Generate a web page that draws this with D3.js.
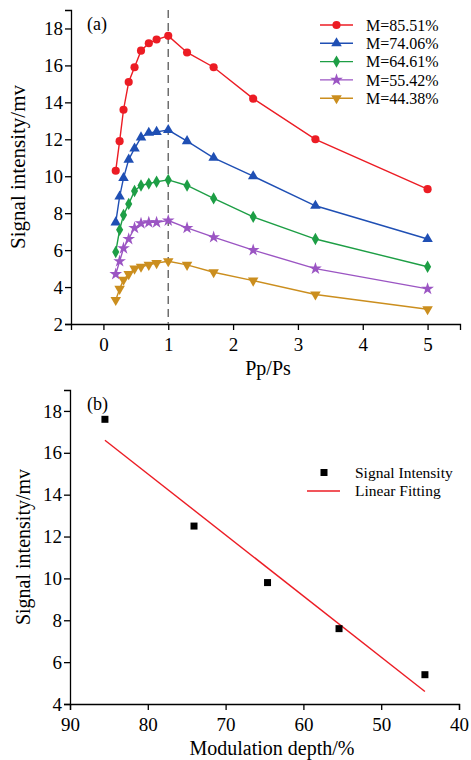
<!DOCTYPE html>
<html>
<head>
<meta charset="utf-8">
<script src="https://cdn.jsdelivr.net/npm/d3@7"></script>
<style>
  body { margin: 0; background: #fff; }
  svg { display: block; font-family: "Liberation Serif", "DejaVu Serif", serif; }
  .axis path, .axis line { stroke: #000; stroke-width: 1.3; }
  .axis text { font-size: 19px; font-family: "Liberation Serif", serif; fill: #000; }
</style>
</head>
<body>
<div id="chart"></div>
<script>
// panel (a) data
var ratios = [0.19, 0.25, 0.31, 0.39, 0.48, 0.58, 0.70, 0.82, 1.0, 1.29, 1.70, 2.31, 3.27, 5.0]
var depthLabels = ["M=85.51%", "M=74.06%", "M=64.61%", "M=55.42%", "M=44.38%"]
var red = [10.3, 11.9, 13.6, 15.1, 15.9, 16.8, 17.2, 17.4, 17.6, 16.7, 15.9, 14.2, 12.0, 9.3]
var blue = [7.5, 8.9, 9.9, 10.9, 11.5, 12.1, 12.35, 12.4, 12.5, 11.9, 11.0, 10.0, 8.4, 6.6]
var green = [5.9, 7.1, 7.9, 8.5, 9.2, 9.5, 9.6, 9.7, 9.8, 9.5, 8.8, 7.8, 6.6, 5.1]
var purple = [4.7, 5.4, 6.1, 6.6, 7.2, 7.45, 7.5, 7.5, 7.6, 7.2, 6.7, 6.0, 5.0, 3.9]
var orange = [3.3, 3.9, 4.4, 4.7, 5.0, 5.1, 5.2, 5.3, 5.4, 5.2, 4.8, 4.35, 3.6, 2.8]
var ticksA_x = [0, 1, 2, 3, 4, 5]
var ticksA_y = [2, 4, 6, 8, 10, 12, 14, 16, 18]

// panel (b) data
var depth = [85.51, 74.06, 64.61, 55.42, 44.38]
var peak = [17.6, 12.5, 9.8, 7.6, 5.4]
var fitX = [85.51, 44.38]
var fitY = [16.6, 4.6]
var ticksB_x = [90, 80, 70, 60, 50, 40]
var ticksB_y = [4, 6, 8, 10, 12, 14, 16, 18]

var W = 471, H = 760

var svg = d3.select("#chart").append("svg")
    .attr("width", W)
    .attr("height", H)

var series = [
  {name: depthLabels[0], values: red, color: "#ec1c24", shape: d3.symbolCircle, size: 52, rot: 0},
  {name: depthLabels[1], values: blue, color: "#1f4fb4", shape: d3.symbolTriangle, size: 48, rot: 0},
  {name: depthLabels[2], values: green, color: "#1d9e45", shape: d3.symbolDiamond, size: 44, rot: 0},
  {name: depthLabels[3], values: purple, color: "#9b55c3", shape: d3.symbolStar, size: 50, rot: 0},
  {name: depthLabels[4], values: orange, color: "#cb8e1e", shape: d3.symbolTriangle, size: 48, rot: 180}
]

var fmt = d3.format("d")

// ---------- panel (a)
var xa = d3.scaleLinear().domain([-0.5, 5.5]).range([71, 460])
var ya = d3.scaleLinear().domain([2, 19]).range([324, 10])

var ga = svg.append("g")

ga.append("g")
    .attr("class", "axis")
    .attr("transform", "translate(0," + ya.range()[0] + ")")
    .call(d3.axisBottom(xa).tickValues(ticksA_x).tickFormat(fmt).tickSizeOuter(0).tickSize(6).tickPadding(8))

ga.append("g")
    .attr("class", "axis")
    .attr("transform", "translate(" + xa.range()[0] + ",0)")
    .call(d3.axisLeft(ya).tickValues(ticksA_y).tickFormat(fmt).tickSizeOuter(0).tickSize(6).tickPadding(2))

// dashed guide at Pp/Ps = 1
ga.append("line")
    .attr("x1", xa(1)).attr("x2", xa(1))
    .attr("y1", ya(19)).attr("y2", ya(2))
    .attr("stroke", "#6e6e6e")
    .attr("stroke-width", 1.5)
    .attr("stroke-dasharray", "8,5")

var lineA = d3.line()
    .x(function(d, i){ return xa(ratios[i]) })
    .y(function(d){ return ya(d) })

series.forEach(function(s){
  ga.append("path")
      .attr("d", lineA(s.values))
      .attr("fill", "none")
      .attr("stroke", s.color)
      .attr("stroke-width", 1.4)

  ga.selectAll(null)
      .data(s.values)
      .enter().append("path")
      .attr("d", d3.symbol().type(s.shape).size(s.size))
      .attr("transform", function(d, i){
        return "translate(" + xa(ratios[i]) + "," + ya(d) + ") rotate(" + s.rot + ")"
      })
      .attr("fill", s.color)
})

// legend (a)
var leg = ga.append("g")
series.forEach(function(s, i){
  var y = 25 + i * 18.3
  leg.append("line")
      .attr("x1", 320).attr("x2", 353)
      .attr("y1", y).attr("y2", y)
      .attr("stroke", s.color)
      .attr("stroke-width", 1.4)
  leg.append("path")
      .attr("d", d3.symbol().type(s.shape).size(s.size))
      .attr("transform", "translate(336.5," + y + ") rotate(" + s.rot + ")")
      .attr("fill", s.color)
  leg.append("text")
      .attr("x", 366)
      .attr("y", y)
      .attr("dy", "0.35em")
      .attr("font-size", 16)
      .text(s.name)
})

ga.append("text")
    .attr("x", 87).attr("y", 30)
    .attr("font-size", 18)
    .text("(a)")

ga.append("text")
    .attr("x", 268).attr("y", 375)
    .attr("text-anchor", "middle")
    .attr("font-size", 20)
    .text("Pp/Ps")

ga.append("text")
    .attr("transform", "translate(25," + (ya(2) + ya(19)) / 2 + ") rotate(-90)")
    .attr("text-anchor", "middle")
    .attr("font-size", 21)
    .text("Signal intensity/mv")

// ---------- panel (b)
var xb = d3.scaleLinear().domain([90, 40]).range([70, 459])
var yb = d3.scaleLinear().domain([4, 19]).range([704, 390])

var gb = svg.append("g")

gb.append("g")
    .attr("class", "axis")
    .attr("transform", "translate(0," + yb.range()[0] + ")")
    .call(d3.axisBottom(xb).tickValues(ticksB_x).tickFormat(fmt).tickSizeOuter(0).tickSize(6).tickPadding(8))

gb.append("g")
    .attr("class", "axis")
    .attr("transform", "translate(" + xb.range()[0] + ",0)")
    .call(d3.axisLeft(yb).tickValues(ticksB_y).tickFormat(fmt).tickSizeOuter(0).tickSize(6).tickPadding(2))

gb.append("path")
    .attr("d", d3.line().x(function(d){ return xb(d) }).y(function(d, i){ return yb(fitY[i]) })(fitX))
    .attr("fill", "none")
    .attr("stroke", "#ec1c24")
    .attr("stroke-width", 1.4)

gb.selectAll("rect.pt")
    .data(peak)
    .enter().append("rect")
    .attr("class", "pt")
    .attr("x", function(d, i){ return xb(depth[i]) - 3.5 })
    .attr("y", function(d){ return yb(d) - 3.5 })
    .attr("width", 7).attr("height", 7)
    .attr("fill", "#000")

// legend (b)
gb.append("rect")
    .attr("x", 320.5).attr("y", 469).attr("width", 7).attr("height", 7)
    .attr("fill", "#000")
gb.append("text")
    .attr("x", 355).attr("y", 473).attr("dy", "0.35em")
    .attr("font-size", 15.5)
    .text("Signal Intensity")
gb.append("line")
    .attr("x1", 307).attr("x2", 340)
    .attr("y1", 491).attr("y2", 491)
    .attr("stroke", "#ec1c24")
    .attr("stroke-width", 1.4)
gb.append("text")
    .attr("x", 355).attr("y", 491).attr("dy", "0.35em")
    .attr("font-size", 15.5)
    .text("Linear Fitting")

gb.append("text")
    .attr("x", 87).attr("y", 410)
    .attr("font-size", 18)
    .text("(b)")

gb.append("text")
    .attr("x", 272).attr("y", 755)
    .attr("text-anchor", "middle")
    .attr("font-size", 20)
    .text("Modulation depth/%")

gb.append("text")
    .attr("transform", "translate(30," + (yb(4) + yb(19)) / 2 + ") rotate(-90)")
    .attr("text-anchor", "middle")
    .attr("font-size", 20)
    .text("Signal intensity/mv")
</script>
</body>
</html>
